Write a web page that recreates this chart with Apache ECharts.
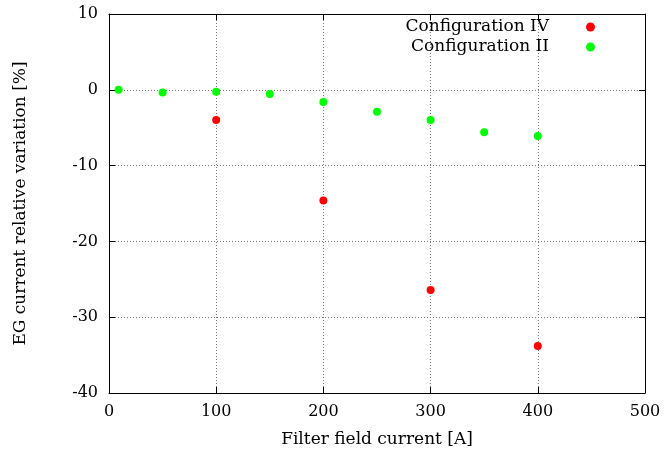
<!DOCTYPE html>
<html><head><meta charset="utf-8">
<script src="https://cdn.jsdelivr.net/npm/echarts@6/dist/echarts.min.js"></script>
<style>html,body{margin:0;padding:0;background:#fff}#c{width:664px;height:458px}</style>
</head><body><div id="c"></div>
<script>
const xTicks = [0, 100, 200, 300, 400, 500];
const yTicks = [-40, -30, -20, -10, 0, 10];
const configIV_x = [100, 200, 300, 400];
const configIV_y = [-4.0, -14.6, -26.4, -33.8];
const configII_x = [9, 50, 100, 150, 200, 250, 300, 350, 400];
const configII_y = [0.0, -0.35, -0.25, -0.55, -1.6, -2.9, -4.0, -5.6, -6.1];
const seriesNames = ['Configuration IV', 'Configuration II'];
const xLabel = 'Filter field current [A]';
const yLabel = 'EG current relative variation [%]';

const font = 'DejaVu Serif';
const chart = echarts.init(document.getElementById('c'));
const grid = {left: 109, right: 19, top: 14, bottom: 65};
const zip = (a, b) => a.map((v, i) => [v, b[i]]);
chart.setOption({
  animation: false,
  grid: grid,
  textStyle: {fontFamily: font},
  legend: {
    orient: 'vertical', right: 64, top: 13, align: 'right',
    itemWidth: 9, itemHeight: 9, itemGap: 2,
    textStyle: {fontFamily: font, fontSize: 17, lineHeight: 18, color: '#000', padding: [0, 32, 0, 0]},
    data: seriesNames.map(n => ({name: n, icon: 'circle'}))
  },
  xAxis: [{
    type: 'value', min: xTicks[0], max: xTicks[xTicks.length - 1], interval: 100,
    name: xLabel, nameLocation: 'middle', nameGap: 38,
    nameTextStyle: {fontFamily: font, fontSize: 17, color: '#000'},
    axisLine: {onZero: false, lineStyle: {color: '#000', width: 1}},
    axisTick: {inside: true, length: 6, lineStyle: {color: '#000'}},
    axisLabel: {fontFamily: font, fontSize: 16, color: '#000', margin: 11},
    splitLine: {show: true, lineStyle: {color: '#777', type: [1, 2], width: 1}}
  }, {
    type: 'value', position: 'top', min: xTicks[0], max: xTicks[xTicks.length - 1], interval: 100,
    axisLine: {show: true, onZero: false, lineStyle: {color: '#000'}},
    axisTick: {show: true, inside: true, length: 6, lineStyle: {color: '#000'}},
    axisLabel: {show: false}, splitLine: {show: false}
  }],
  yAxis: [{
    type: 'value', min: yTicks[0], max: yTicks[yTicks.length - 1], interval: 10,
    name: yLabel, nameLocation: 'middle', nameGap: 80, nameRotate: 90,
    nameTextStyle: {fontFamily: font, fontSize: 17, color: '#000'},
    axisLine: {show: true, onZero: false, lineStyle: {color: '#000', width: 1}},
    axisTick: {show: true, inside: true, length: 6, lineStyle: {color: '#000'}},
    axisLabel: {fontFamily: font, fontSize: 16, color: '#000', margin: 11},
    splitLine: {show: true, lineStyle: {color: '#777', type: [1, 2], width: 1}}
  }, {
    type: 'value', position: 'right', min: yTicks[0], max: yTicks[yTicks.length - 1], interval: 10,
    axisLine: {show: true, onZero: false, lineStyle: {color: '#000'}},
    axisTick: {show: true, inside: true, length: 6, lineStyle: {color: '#000'}},
    axisLabel: {show: false}, splitLine: {show: false}
  }],
  series: [{
    name: seriesNames[0], type: 'scatter', symbol: 'circle', symbolSize: 8,
    itemStyle: {color: '#ff0000', opacity: 1}, data: zip(configIV_x, configIV_y)
  }, {
    name: seriesNames[1], type: 'scatter', symbol: 'circle', symbolSize: 8,
    itemStyle: {color: '#00ff00', opacity: 1}, data: zip(configII_x, configII_y)
  }]
});
</script></body></html>
